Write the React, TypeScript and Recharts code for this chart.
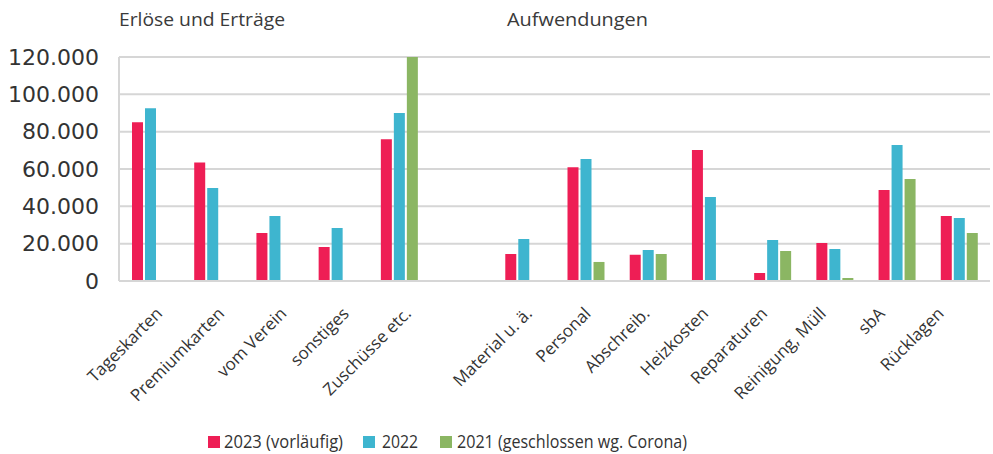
import React from "react";
import { BarChart, Bar, XAxis, YAxis, CartesianGrid, Legend, Customized } from "recharts";

const categories = [
  "Tageskarten", "Premiumkarten", "vom Verein", "sonstiges", "Zuschüsse etc.", "",
  "Material u. ä.", "Personal", "Abschreib.", "Heizkosten", "Reparaturen", "Reinigung, Müll", "sbA", "Rücklagen",
];
const values2023: (number | null)[] = [85000, 63500, 25700, 18200, 76000, null, 14500, 61000, 14000, 70200, 4300, 20400, 48700, 34800];
const values2022: (number | null)[] = [92500, 49800, 34800, 28400, 90000, null, 22500, 65300, 16600, 45000, 22000, 17100, 72800, 33700];
const values2021: (number | null)[] = [null, null, null, null, 120000, null, null, 10200, 14500, null, 16100, 1600, 54600, 25700];
const seriesNames = ["2023 (vorläufig)", "2022", "2021 (geschlossen wg. Corona)"];
const yTicks = [0, 20000, 40000, 60000, 80000, 100000, 120000];
const groupTitles = ["Erlöse und Erträge", "Aufwendungen"];

const COLORS = ["#EE1E55", "#3EB5CF", "#8BB663"];

const data = categories.map((name, i) => ({
  name,
  v2023: values2023[i],
  v2022: values2022[i],
  v2021: values2021[i],
}));

const fmt = (v: number) => String(v).replace(/\B(?=(\d{3})+(?!\d))/g, ".");

const labelShift = (idx: number) => (idx <= 4 ? 10.5 : 7 - 3.4 * (idx - 6)) - 6;

const XTick = (props: any) => {
  const { x, payload } = props;
  if (!payload || !payload.value) return null;
  const idx = categories.indexOf(payload.value);
  const ax = x + labelShift(idx);
  const ay = 306;
  return (
    <text
      transform={`translate(${ax},${ay}) rotate(-45)`}
      textAnchor="end"
      dy="0.72em"
      fontFamily="'Open Sans', sans-serif"
      fontSize={17}
      fill="#333"
    >
      {payload.value}
    </text>
  );
};

const legendLayout = [
  { sq: 208, tx: 224, w: 119 },
  { sq: 363, tx: 382, w: 36 },
  { sq: 440, tx: 457, w: 230 },
];

const LegendContent = (props: any) => {
  const payload = props.payload || [];
  return (
    <svg width={993} height={24} style={{ display: "block" }}>
      {payload.map((p: any, i: number) => {
        const k = seriesNames.indexOf(p.value);
        const l = legendLayout[k >= 0 ? k : i];
        return (
          <g key={i}>
            <rect x={l.sq} y={6} width={12} height={12} fill={p.color} />
            <text
              x={l.tx}
              y={18}
              fontFamily="'Open Sans', sans-serif"
              fontSize={18}
              fill="#333"
              textLength={l.w}
              lengthAdjust="spacingAndGlyphs"
            >
              {p.value}
            </text>
          </g>
        );
      })}
    </svg>
  );
};

const Titles = () => (
  <g>
    <text x={119} y={26} fontFamily="'Open Sans', sans-serif" fontSize={18} fill="#3a3a3a" textLength={166} lengthAdjust="spacingAndGlyphs">
      {groupTitles[0]}
    </text>
    <text x={507} y={26} fontFamily="'Open Sans', sans-serif" fontSize={18} fill="#3a3a3a" textLength={141} lengthAdjust="spacingAndGlyphs">
      {groupTitles[1]}
    </text>
  </g>
);

export default function App() {
  return (
    <div style={{ position: "absolute", left: 0, top: 0, width: 993, height: 454, background: "#fff" }}>
      <BarChart
        width={993}
        height={454}
        data={data}
        margin={{ top: 57, right: 3, left: 0, bottom: 0 }}
        barSize={11}
        barGap={2}
      >
        <CartesianGrid vertical={false} stroke="#d6d6d6" strokeWidth={2} />
        <XAxis
          dataKey="name"
          interval={0}
          height={149}
          tickLine={false}
          axisLine={{ stroke: "#d6d6d6", strokeWidth: 2 }}
          tick={<XTick />}
        />
        <YAxis
          width={119}
          domain={[0, 120000]}
          ticks={yTicks}
          tickFormatter={fmt}
          tickLine={false}
          tickSize={0}
          tickMargin={20}
          axisLine={{ stroke: "#d6d6d6", strokeWidth: 2 }}
          tick={{ fontFamily: "'DejaVu Sans', sans-serif", fontSize: 22, fill: "#333" }}
          allowDataOverflow
        />
        <Legend verticalAlign="bottom" content={<LegendContent />} />
        <Bar dataKey="v2023" name={seriesNames[0]} fill={COLORS[0]} isAnimationActive={false} />
        <Bar dataKey="v2022" name={seriesNames[1]} fill={COLORS[1]} isAnimationActive={false} />
        <Bar dataKey="v2021" name={seriesNames[2]} fill={COLORS[2]} isAnimationActive={false} />
        <Customized component={<Titles />} />
      </BarChart>
    </div>
  );
}
